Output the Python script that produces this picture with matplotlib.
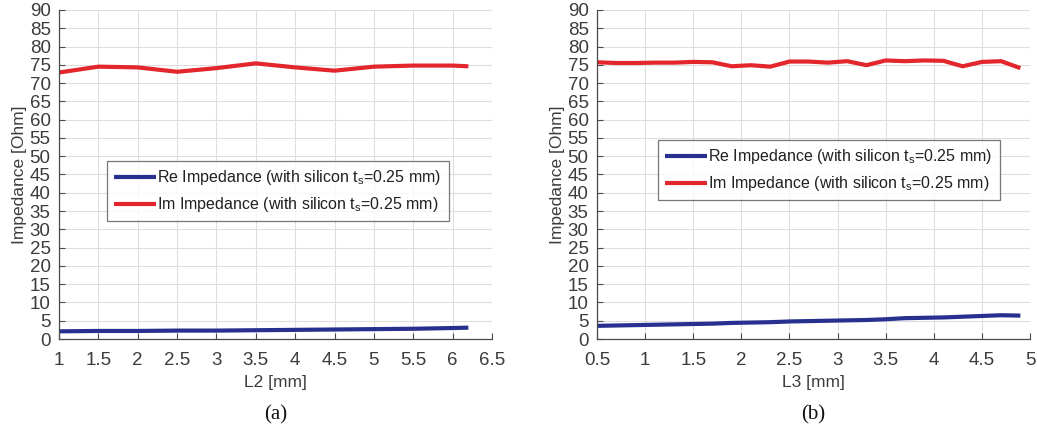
import matplotlib
matplotlib.use("Agg")
import matplotlib.pyplot as plt

plt.rcParams['font.family'] = ['Liberation Sans', 'DejaVu Sans']
plt.rcParams['mathtext.fontset'] = 'custom'
plt.rcParams['mathtext.rm'] = 'Liberation Sans'

# Panel (a): sweep of L2
l2_mm = [1.0, 1.5, 2.0, 2.5, 3.0, 3.5, 4.0, 4.5, 5.0, 5.5, 6.0, 6.2]
re_a = [2.1, 2.2, 2.2, 2.3, 2.3, 2.4, 2.5, 2.6, 2.7, 2.8, 3.0, 3.1]
im_a = [72.9, 74.5, 74.3, 73.1, 74.1, 75.4, 74.3, 73.4, 74.5, 74.8, 74.8, 74.6]

# Panel (b): sweep of L3
l3_mm = [0.5, 0.7, 0.9, 1.1, 1.3, 1.5, 1.7, 1.9, 2.1, 2.3, 2.5, 2.7,
         2.9, 3.1, 3.3, 3.5, 3.7, 3.9, 4.1, 4.3, 4.5, 4.7, 4.9]
re_b = [3.6, 3.7, 3.8, 3.9, 4.0, 4.1, 4.2, 4.4, 4.5, 4.6, 4.8, 4.9,
        5.0, 5.1, 5.2, 5.4, 5.7, 5.8, 5.9, 6.1, 6.3, 6.5, 6.4]
im_b = [75.7, 75.5, 75.5, 75.6, 75.6, 75.8, 75.7, 74.6, 74.9, 74.5, 75.9, 75.9,
        75.6, 76.0, 74.9, 76.2, 76.0, 76.2, 76.1, 74.6, 75.8, 76.0, 74.1]

y_ticks = list(range(0, 95, 5))
x_ticks_a = [1, 1.5, 2, 2.5, 3, 3.5, 4, 4.5, 5, 5.5, 6, 6.5]
x_ticks_b = [0.5, 1, 1.5, 2, 2.5, 3, 3.5, 4, 4.5, 5]
x_tick_labels_a = ['1', '1.5', '2', '2.5', '3', '3.5', '4', '4.5', '5', '5.5', '6', '6.5']
x_tick_labels_b = ['0.5', '1', '1.5', '2', '2.5', '3', '3.5', '4', '4.5', '5']

RED = '#e3262b'
BLUE = '#27308f'
TXT = '#3c3c3c'

fig = plt.figure(figsize=(10.37, 4.36), dpi=100)
ax_a = fig.add_axes([59 / 1037, 97 / 436, 433 / 1037, 329 / 436])
ax_b = fig.add_axes([597 / 1037, 97 / 436, 433 / 1037, 329 / 436])

label_re = 'Re Impedance (with silicon t$_{\\mathrm{s}}$=0.25 mm)'
label_im = 'Im Impedance (with silicon t$_{\\mathrm{s}}$=0.25 mm)'


def style_axes(ax, x, re, im, xticks, xlabels, xlim, xlabel, legend_anchor, caption):
    ax.plot(x, re, color=BLUE, lw=3.0, label=label_re, solid_capstyle='butt')
    ax.plot(x, im, color=RED, lw=3.0, label=label_im, solid_capstyle='butt')
    ax.set_xlim(*xlim)
    ax.set_ylim(0, 90)
    ax.set_xticks(xticks)
    ax.set_xticklabels(xlabels)
    ax.set_yticks(y_ticks)
    ax.grid(True, color='#dedede', lw=0.8)
    ax.set_axisbelow(True)
    for side in ('top', 'right'):
        ax.spines[side].set_visible(False)
    for side in ('left', 'bottom'):
        ax.spines[side].set_color('#4a4a4a')
        ax.spines[side].set_linewidth(0.9)
    ax.tick_params(direction='in', length=4, width=0.8, colors='#4a4a4a',
                   labelsize=13.5, labelcolor=TXT)
    ax.tick_params(axis='x', pad=9)
    ax.tick_params(axis='y', pad=6)
    ax.set_xlabel(xlabel, fontsize=12.5, color=TXT, labelpad=5)
    ax.set_ylabel('Impedance [Ohm]', fontsize=12.5, color=TXT, labelpad=2)
    leg = ax.legend(loc='upper left', bbox_to_anchor=legend_anchor,
                    bbox_transform=fig.transFigure, fontsize=11.5,
                    frameon=True, fancybox=False, handlelength=2.6,
                    handletextpad=0.1, borderpad=0.45, labelspacing=0.5,
                    borderaxespad=0)
    leg.get_frame().set_edgecolor('#555555')
    leg.get_frame().set_linewidth(0.9)
    for t in leg.get_texts():
        t.set_color('#202020')
    ax.text(0.5, -0.2, caption, transform=ax.transAxes, ha='center', va='top',
            fontsize=15, family='Liberation Serif', color='#111111')


style_axes(ax_a, l2_mm, re_a, im_a, x_ticks_a, x_tick_labels_a, (1, 6.5),
           'L2 [mm]', (107 / 1037, 1 - 161 / 436), '(a)')
style_axes(ax_b, l3_mm, re_b, im_b, x_ticks_b, x_tick_labels_b, (0.5, 5),
           'L3 [mm]', (658 / 1037, 1 - 140 / 436), '(b)')

fig.savefig('out.png', dpi=100, facecolor='white')
